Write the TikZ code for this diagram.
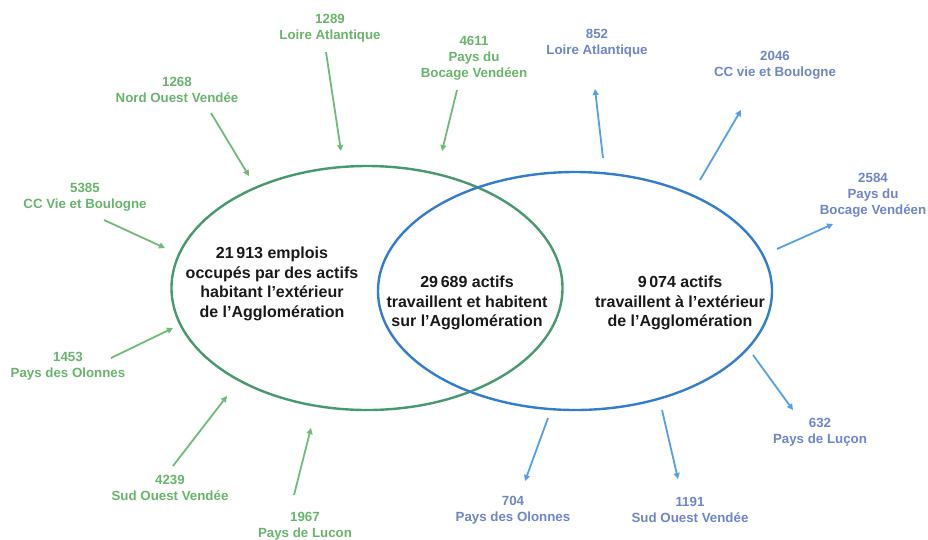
\documentclass[tikz,border=0pt]{standalone}
\usepackage{fontspec}
\setmainfont{Liberation Sans}
\usetikzlibrary{shapes.geometric,arrows.meta}
\definecolor{gtext}{RGB}{104,180,108}
\definecolor{gline}{RGB}{72,152,112}
\definecolor{garrow}{RGB}{112,186,122}
\definecolor{btext}{RGB}{112,132,200}
\definecolor{bline}{RGB}{52,124,204}
\definecolor{barrow}{RGB}{84,160,230}
\tikzset{
  glabel/.style={text=gtext,font=\fontsize{13.3}{15.8}\selectfont\bfseries,align=center,inner sep=0pt},
  blabel/.style={text=btext,font=\fontsize{13.3}{15.8}\selectfont\bfseries,align=center,inner sep=0pt},
  maintext/.style={text=black!90,font=\fontsize{16}{19.5}\selectfont\bfseries,align=center,inner sep=0pt},
  garr/.style={draw=garrow,line width=1.8pt,-{Triangle[length=6pt,width=6pt]}},
  barr/.style={draw=barrow,line width=1.8pt,-{Triangle[length=6pt,width=6pt]}},
  venn/.style={ellipse,line width=2.4pt,inner sep=0pt}
}
\begin{document}
\begin{tikzpicture}[x=1pt,y=-1pt]
\useasboundingbox (0,0) rectangle (928,539);
% ellipses
\node[venn,draw=gline,minimum width=391pt,minimum height=244pt] (G) at (367,288) {};
\node[venn,draw=bline,minimum width=394pt,minimum height=238pt] (B) at (575,291) {};
% central texts
\node[maintext] (tl) at (272,284) {21\,913 emplois\\occupés par des actifs\\habitant l’extérieur\\de l’Agglomération};
\node[maintext] (tm) at (467,303) {29\,689 actifs\\travaillent et habitent\\sur l’Agglomération};
\node[maintext] (tr) at (680,303) {9\,074 actifs\\travaillent à l’extérieur\\de l’Agglomération};
% green labels
\node[glabel] (g1) at (330,28) {1289\\Loire Atlantique};
\node[glabel] (g2) at (177,90) {1268\\Nord Ouest Vendée};
\node[glabel] (g3) at (474,58) {4611\\Pays du\\Bocage Vendéen};
\node[glabel] (g4) at (85,197) {5385\\CC Vie et Boulogne};
\node[glabel] (g5) at (68,366) {1453\\Pays des Olonnes};
\node[glabel] (g6) at (170,488) {4239\\Sud Ouest Vendée};
\node[glabel] (g7) at (305,526) {1967\\Pays de Lucon};
% blue labels
\node[blabel] (b1) at (597,43) {852\\Loire Atlantique};
\node[blabel] (b2) at (775,65) {2046\\CC vie et Boulogne};
\node[blabel] (b3) at (873,195) {2584\\Pays du\\Bocage Vendéen};
\node[blabel] (b4) at (820,432) {632\\Pays de Luçon};
\node[blabel] (b5) at (513,510) {704\\Pays des Olonnes};
\node[blabel] (b6) at (690,510) {1191\\Sud Ouest Vendée};
% arrow coordinates
\coordinate (g1s) at (326,52);  \coordinate (g1e) at (341,151);
\coordinate (g2s) at (211,113); \coordinate (g2e) at (249,176);
\coordinate (g3s) at (457,90);  \coordinate (g3e) at (442,151);
\coordinate (g4s) at (104,220); \coordinate (g4e) at (165,248);
\coordinate (g5s) at (111,358); \coordinate (g5e) at (173,328);
\coordinate (g6s) at (173,466); \coordinate (g6e) at (227,396);
\coordinate (g7s) at (294,495); \coordinate (g7e) at (311,428);
\coordinate (b1s) at (603,158); \coordinate (b1e) at (595,89);
\coordinate (b2s) at (700,180); \coordinate (b2e) at (741,110);
\coordinate (b3s) at (777,249); \coordinate (b3e) at (833,224);
\coordinate (b4s) at (753,355); \coordinate (b4e) at (793,410);
\coordinate (b5s) at (548,418); \coordinate (b5e) at (525,481);
\coordinate (b6s) at (662,410); \coordinate (b6e) at (678,479);
\foreach \i in {1,...,7} {\draw[garr] (g\i s) -- (g\i e);}
\foreach \i in {1,...,6} {\draw[barr] (b\i s) -- (b\i e);}
\end{tikzpicture}
\end{document}
